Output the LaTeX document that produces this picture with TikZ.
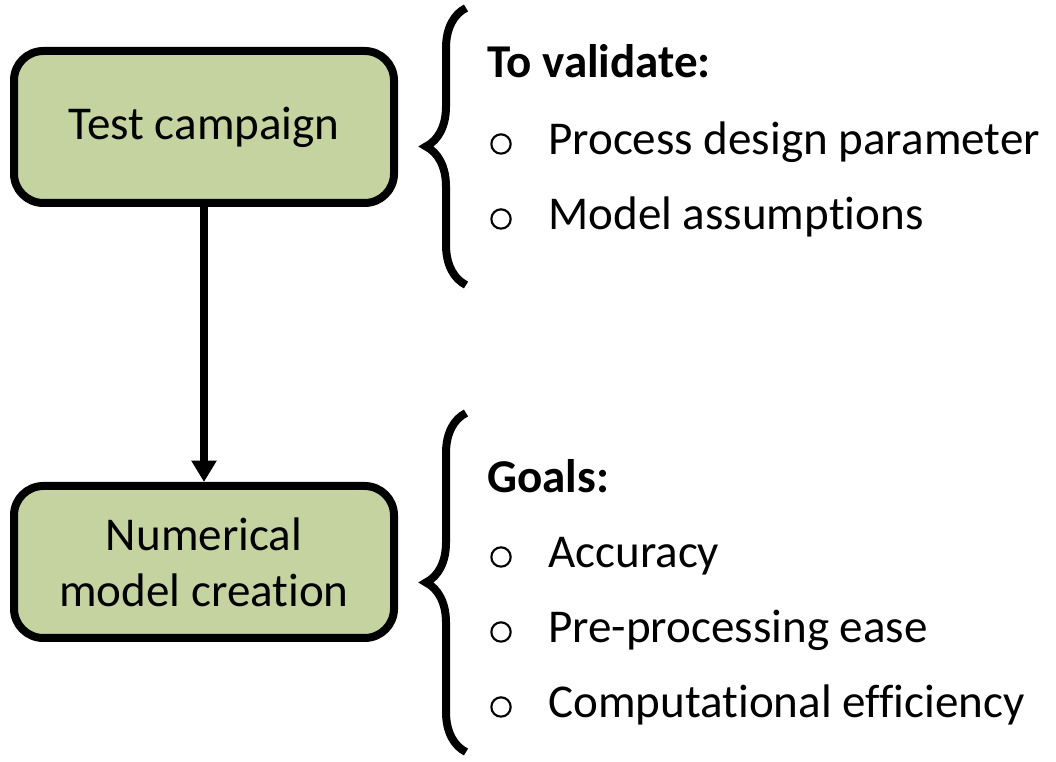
\documentclass[tikz,border=0pt]{standalone}
\usepackage{fontspec}
\setmainfont{Carlito}[Ligatures={NoCommon}]
\usetikzlibrary{decorations.pathreplacing,arrows.meta}
\definecolor{boxgreen}{RGB}{196,211,160}

\tikzset{
  stagebox/.style={draw, line width=6pt, rounded corners=22pt, fill=boxgreen,
    minimum width=285pt, minimum height=114pt, align=center,
    font=\fontsize{35.3}{42}\selectfont},
  listtext/.style={anchor=base west, inner sep=0pt, font=\fontsize{35.3}{42}\selectfont},
  listhead/.style={listtext, font=\fontsize{35.3}{42}\selectfont\bfseries},
  listdot/.style={circle, draw, line width=1.6pt, minimum size=14.5pt, inner sep=0pt},
  curly/.style={decorate, decoration={brace, amplitude=30pt}, line width=6pt},
}

\begin{document}
\begin{tikzpicture}[x=0.75pt,y=0.75pt]
\useasboundingbox (0,0) rectangle (1056,762);

\node[stagebox] (A1) at (204,635) {Test campaign};
\node[stagebox] (B1) at (204,200) {Numerical\\model creation};

\path[-{Triangle[width=18pt,length=16pt]}, line width=5.5pt] (A1) edge [] node[]{} (B1);

% upper list
\draw[curly] (466,477) -- (466,754);
\node[listhead] (H1) at (487,684) {To validate:};
\node[listdot] at (501,618) {};
\node[listtext] (P1) at (548,607) {Process design parameter};
\node[listdot] at (501,543) {};
\node[listtext] (P2) at (548,532) {Model assumptions};

% lower list
\draw[curly] (466,10) -- (466,349);
\node[listhead] (H2) at (487,269) {Goals:};
\node[listdot] at (501,205) {};
\node[listtext] (G1) at (548,194) {Accuracy};
\node[listdot] at (501,130) {};
\node[listtext] (G2) at (548,119) {Pre-processing ease};
\node[listdot] at (501,55) {};
\node[listtext] (G3) at (548,44) {Computational efficiency};
\end{tikzpicture}
\end{document}
